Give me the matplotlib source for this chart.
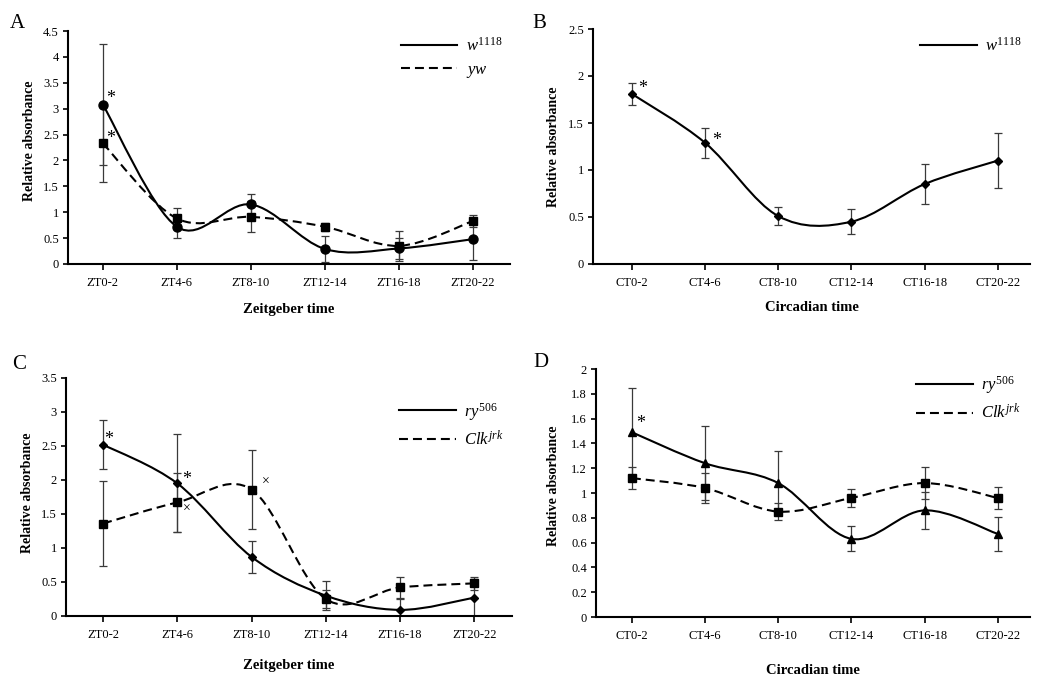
import matplotlib
matplotlib.use("Agg")
import matplotlib.pyplot as plt
from matplotlib.path import Path
from matplotlib.patches import PathPatch
from matplotlib.lines import Line2D

plt.rcParams['font.family'] = ['Liberation Serif', 'DejaVu Serif']
plt.rcParams['mathtext.fontset'] = 'custom'
plt.rcParams['mathtext.it'] = 'Liberation Serif:italic'
plt.rcParams['mathtext.rm'] = 'Liberation Serif'

# ---------------- data ----------------
zt_labels = ['ZT0-2', 'ZT4-6', 'ZT8-10', 'ZT12-14', 'ZT16-18', 'ZT20-22']
ct_labels = ['CT0-2', 'CT4-6', 'CT8-10', 'CT12-14', 'CT16-18', 'CT20-22']

# Panel A
a_w1118 = [3.08, 0.72, 1.15, 0.29, 0.30, 0.48]
a_w1118_err = [1.17, 0.21, 0.21, 0.25, 0.20, 0.41]
a_yw = [2.33, 0.88, 0.91, 0.72, 0.35, 0.83]
a_yw_err = [0.75, 0.20, 0.30, 0.08, 0.29, 0.12]

# Panel B
b_w1118 = [1.81, 1.29, 0.51, 0.45, 0.85, 1.10]
b_w1118_err = [0.12, 0.16, 0.10, 0.13, 0.21, 0.29]

# Panel C
c_ry506 = [2.52, 1.95, 0.87, 0.30, 0.09, 0.27]
c_ry506_err = [0.36, 0.72, 0.24, 0.21, 0.16, 0.27]
c_clk = [1.36, 1.67, 1.86, 0.25, 0.42, 0.48]
c_clk_err = [0.62, 0.43, 0.58, 0.13, 0.15, 0.10]

# Panel D
d_ry506 = [1.49, 1.24, 1.08, 0.63, 0.86, 0.67]
d_ry506_err = [0.36, 0.30, 0.26, 0.10, 0.15, 0.14]
d_clk = [1.12, 1.04, 0.85, 0.96, 1.08, 0.96]
d_clk_err = [0.09, 0.12, 0.07, 0.07, 0.13, 0.09]

DASH = (0, (4.3, 2.4))
LW = 1.5
ERR_COLOR = '#3a3a3a'


def smooth_line(ax, y, ls, zorder=3):
    """Excel-like smoothed line: cubic Bezier (Catmull-Rom) through the points."""
    x = list(range(len(y)))
    pts = list(zip(x, y))
    n = len(pts)
    verts = [pts[0]]
    codes = [Path.MOVETO]
    for i in range(n - 1):
        p0 = pts[i - 1] if i > 0 else pts[i]
        p1 = pts[i]
        p2 = pts[i + 1]
        p3 = pts[i + 2] if i + 2 < n else pts[i + 1]
        c1 = (p1[0] + (p2[0] - p0[0]) / 6.0, p1[1] + (p2[1] - p0[1]) / 6.0)
        c2 = (p2[0] - (p3[0] - p1[0]) / 6.0, p2[1] - (p3[1] - p1[1]) / 6.0)
        verts += [c1, c2, p2]
        codes += [Path.CURVE4, Path.CURVE4, Path.CURVE4]
    patch = PathPatch(Path(verts, codes), fill=False, edgecolor='black',
                      linewidth=LW, linestyle=ls, zorder=zorder,
                      capstyle='butt')
    ax.add_patch(patch)


def series(ax, y, err, marker, ms, ls):
    x = list(range(len(y)))
    ax.errorbar(x, y, yerr=err, fmt='none', ecolor=ERR_COLOR, elinewidth=0.9,
                capsize=2.9, capthick=0.9, zorder=2)
    smooth_line(ax, y, ls)
    ax.plot(x, y, linestyle='none', marker=marker, markersize=ms,
            color='black', zorder=4)


def style_axes(ax, labels, ylim, yticks, xlim, xlabel, xl_y, yl_x, yl_y):
    ax.set_xlim(*xlim)
    ax.set_ylim(*ylim)
    ax.set_xticks(range(len(labels)))
    ax.set_xticklabels(labels, fontsize=9)
    ax.set_yticks(yticks)
    ax.set_yticklabels(['%g' % v for v in yticks], fontsize=9)
    for s in ['top', 'right']:
        ax.spines[s].set_visible(False)
    for s in ['left', 'bottom']:
        ax.spines[s].set_linewidth(1.5)
    ax.tick_params(axis='x', length=4.5, width=1.2, pad=5)
    ax.tick_params(axis='y', length=3.5, width=1.2, pad=3)
    ax.set_xlabel(xlabel, fontsize=10.5, fontweight='bold')
    ax.xaxis.set_label_coords(0.5, xl_y)
    ax.xaxis.label.set_verticalalignment('center')
    ax.set_ylabel('Relative absorbance', fontsize=10, fontweight='bold')
    ax.yaxis.set_label_coords(yl_x, yl_y)
    ax.yaxis.label.set_verticalalignment('center')


def legend(ax, entries, anchor):
    handles = [Line2D([], [], color='black', linewidth=LW, linestyle=ls)
               for ls, _ in entries]
    labels = [lab for _, lab in entries]
    ax.legend(handles, labels, loc='upper left', bbox_to_anchor=anchor,
              frameon=False, fontsize=12, handlelength=3.4,
              handletextpad=0.5, labelspacing=0.45, borderpad=0,
              borderaxespad=0)


def mark(ax, x, y, s, size=13):
    ax.text(x, y, s, fontsize=size, ha='center', va='center', zorder=5)


fig = plt.figure(figsize=(10.5, 6.8), dpi=100)
W, H = 1050.0, 680.0


def axes_px(left, right, top, bottom):
    return fig.add_axes([left / W, 1 - bottom / H, (right - left) / W, (bottom - top) / H])


axA = axes_px(68, 510, 31, 264)
axB = axes_px(593, 1030, 29, 264)
axC = axes_px(66, 512, 378, 616)
axD = axes_px(596, 1030, 369, 617)

# Panel A
series(axA, a_yw, a_yw_err, 's', 5.5, DASH)
series(axA, a_w1118, a_w1118_err, 'o', 6.5, '-')
style_axes(axA, zt_labels, (0, 4.5), [0, 0.5, 1, 1.5, 2, 2.5, 3, 3.5, 4, 4.5],
           (-0.47, 5.5), 'Zeitgeber time', -0.197, -0.088, 0.528)
legend(axA, [('-', r'$\mathit{w^{1118}}$'), (DASH, r'$\mathit{yw}$')], (0.753, 0.975))
mark(axA, 0.1, 3.20, '*')
mark(axA, 0.1, 2.43, '*')

# Panel B
series(axB, b_w1118, b_w1118_err, 'D', 4.5, '-')
style_axes(axB, ct_labels, (0, 2.5), [0, 0.5, 1, 1.5, 2, 2.5],
           (-0.53, 5.44), 'Circadian time', -0.183, -0.0915, 0.5)
legend(axB, [('-', r'$\mathit{w^{1118}}$')], (0.748, 0.965))
mark(axB, 0.15, 1.87, '*')
mark(axB, 1.16, 1.31, '*')

# Panel C
series(axC, c_clk, c_clk_err, 's', 5.5, DASH)
series(axC, c_ry506, c_ry506_err, 'D', 4.5, '-')
style_axes(axC, zt_labels, (0, 3.5), [0, 0.5, 1, 1.5, 2, 2.5, 3, 3.5],
           (-0.5, 5.51), 'Zeitgeber time', -0.206, -0.087, 0.517)
legend(axC, [('-', r'$\mathit{ry^{506}}$'), (DASH, r'$\mathit{Clk^{jrk}}$')], (0.747, 0.905))
mark(axC, 0.08, 2.60, '*')
mark(axC, 1.13, 2.01, '*')
mark(axC, 1.13, 1.56, '×', size=10)
mark(axC, 2.19, 1.97, '×', size=10)

# Panel D
series(axD, d_clk, d_clk_err, 's', 5.5, DASH)
series(axD, d_ry506, d_ry506_err, '^', 6, '-')
style_axes(axD, ct_labels, (0, 2), [0, 0.2, 0.4, 0.6, 0.8, 1, 1.2, 1.4, 1.6, 1.8, 2],
           (-0.49, 5.44), 'Circadian time', -0.214, -0.099, 0.528)
legend(axD, [('-', r'$\mathit{ry^{506}}$'), (DASH, r'$\mathit{Clk^{jrk}}$')], (0.737, 0.98))
mark(axD, 0.12, 1.56, '*')

# Panel letters
fig.text(10 / W, 1 - 28 / H, 'A', fontsize=15, va='baseline')
fig.text(532 / W, 1 - 28 / H, 'B', fontsize=15, va='baseline')
fig.text(12 / W, 1 - 369 / H, 'C', fontsize=15, va='baseline')
fig.text(533 / W, 1 - 367 / H, 'D', fontsize=15, va='baseline')

fig.savefig('out.png', dpi=100)
